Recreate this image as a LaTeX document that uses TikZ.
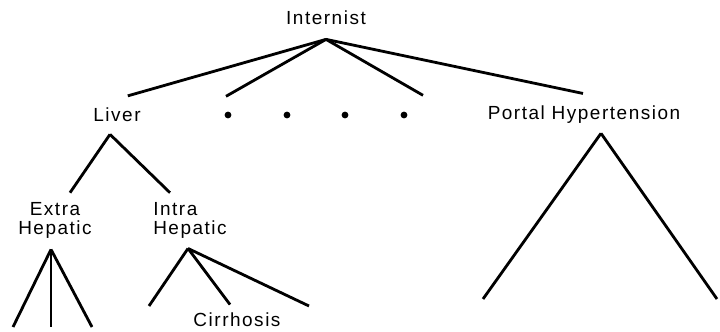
\documentclass[tikz,border=0pt]{standalone}
\usepackage{fontspec}
\setmainfont{Liberation Sans}[LetterSpace=8]
\usepackage{tikz}

\tikzset{
  term/.style={draw=none, inner sep=0pt, font=\fontsize{13.5}{13.5}\selectfont},
  branch/.style={line width=2pt},
  ellip/.style={circle, fill=black, draw=none, inner sep=0pt, minimum size=0.17cm}
}

\begin{document}
\begin{tikzpicture}
\useasboundingbox (0,0) rectangle (18,8.275);

% Root
\node[term, anchor=base] (internist) at (8.15, 7.6625) {Internist};

% Second level
\node[term, anchor=base] (liver) at (2.925, 5.2375) {Liver};
\node[ellip] (d1) at (5.7, 5.4) {};
\node[ellip] (d2) at (7.175, 5.4) {};
\node[ellip] (d3) at (8.625, 5.4) {};
\node[ellip] (d4) at (10.1, 5.4) {};
\node[term, anchor=base] (portal) at (14.6, 5.2875) {Portal Hypertension};

% Liver subtree
\node[term, align=center] (extra) at (1.375, 2.76) {Extra\\Hepatic};
\node[term, align=left, anchor=west] (intra) at (3.825, 2.76) {Intra\\Hepatic};
\node[term, anchor=base] (cirrhosis) at (5.925, 0.11) {Cirrhosis};

% Open ends
\coordinate (e1) at (0.325, 0.1);
\coordinate (e2) at (1.275, 0.1);
\coordinate (e3) at (2.3, 0.1);
\coordinate (i1) at (3.725, 0.625);
\coordinate (i3) at (7.725, 0.625);
\coordinate (p1) at (12.075, 0.8);
\coordinate (p2) at (17.925, 0.8);

% Internist branches
\draw[branch] ([yshift=-0.36cm]internist.south) -- ([xshift=0.27cm, yshift=0.29cm]liver.north);
\draw[branch] ([yshift=-0.36cm]internist.south) -- ([xshift=-0.05cm, yshift=0.375cm]d1.north);
\draw[branch] ([yshift=-0.36cm]internist.south) -- ([xshift=0.475cm, yshift=0.4cm]d4.north);
\draw[branch] ([yshift=-0.36cm]internist.south) -- ([xshift=-0.025cm, yshift=0.3cm]portal.north);

% Liver branches
\draw[branch] ([xshift=-0.175cm, yshift=-0.31cm]liver.south) -- ([xshift=0.375cm, yshift=0.24cm]extra.north);
\draw[branch] ([xshift=-0.175cm, yshift=-0.31cm]liver.south) -- ([xshift=-0.5cm, yshift=0.24cm]intra.north);

% Extra Hepatic branches
\foreach \e in {e1,e2,e3}
  \draw[branch] ([xshift=-0.1cm, yshift=-0.265cm]extra.south) -- (\e);

% Intra Hepatic branches
\draw[branch] ([xshift=-0.05cm, yshift=-0.24cm]intra.south) -- (i1);
\draw[branch] ([xshift=-0.05cm, yshift=-0.24cm]intra.south) -- ([xshift=-0.175cm, yshift=0.2cm]cirrhosis.north);
\draw[branch] ([xshift=-0.05cm, yshift=-0.24cm]intra.south) -- (i3);

% Portal Hypertension branches
\draw[branch] ([xshift=0.425cm, yshift=-0.24cm]portal.south) -- (p1);
\draw[branch] ([xshift=0.425cm, yshift=-0.24cm]portal.south) -- (p2);

\end{tikzpicture}
\end{document}
